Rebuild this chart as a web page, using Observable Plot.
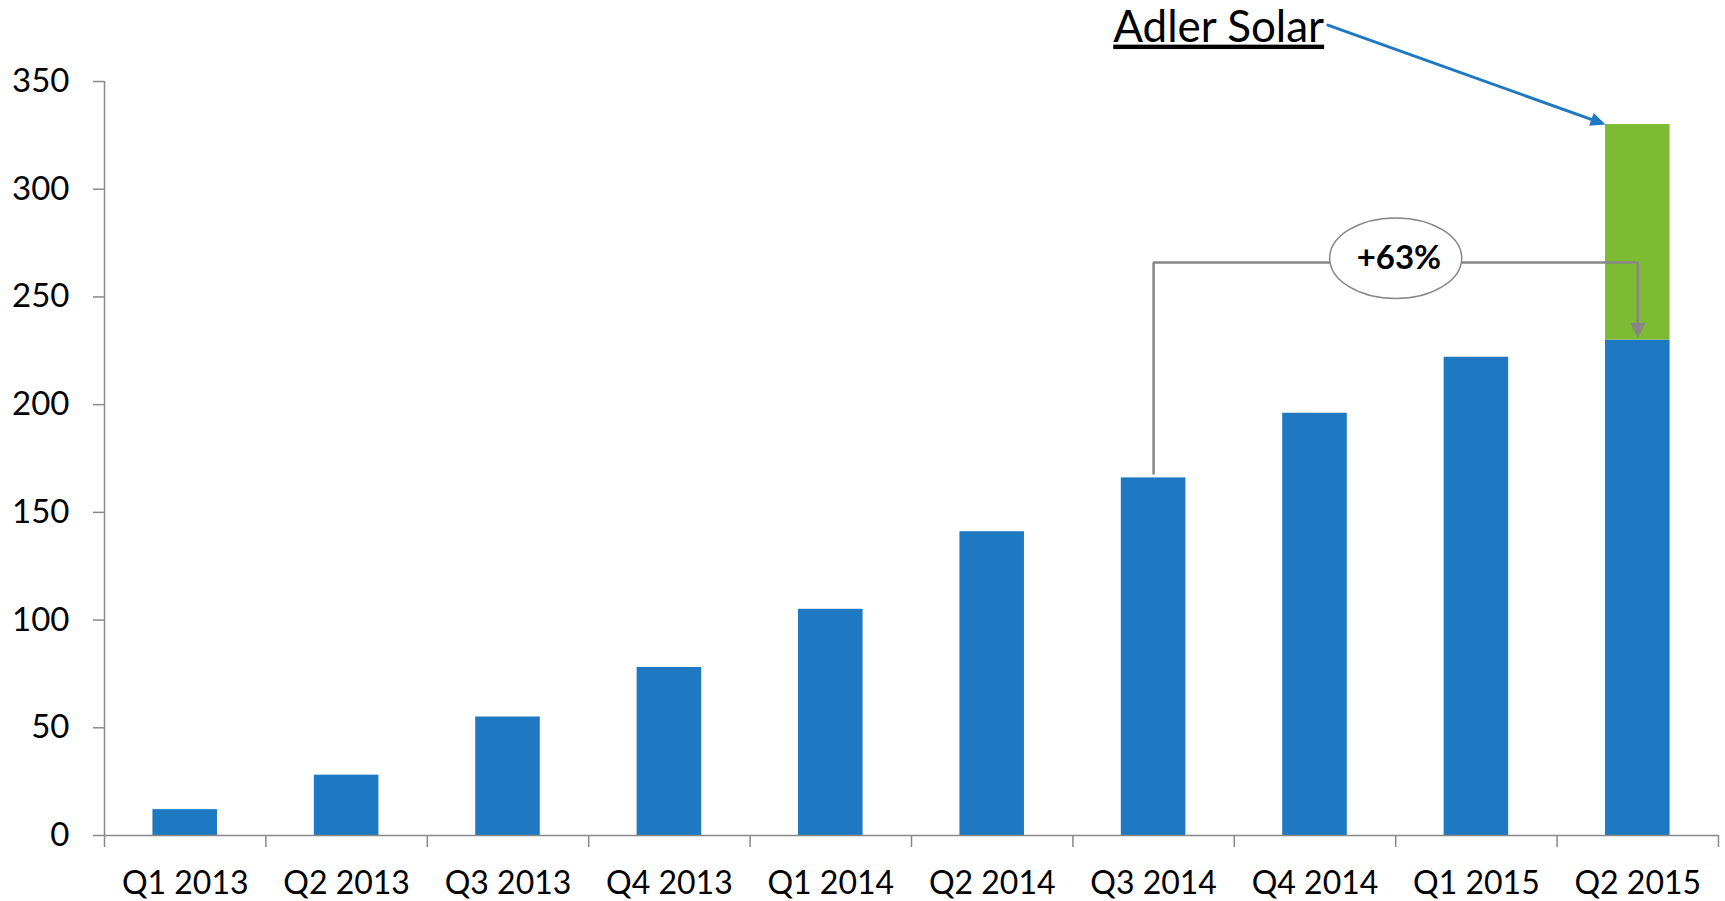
<!DOCTYPE html>
<html><head><meta charset="utf-8">
<script src="https://cdn.jsdelivr.net/npm/d3@7"></script>
<script src="https://cdn.jsdelivr.net/npm/@observablehq/plot@0.6"></script>
<style>html,body{margin:0;padding:0;background:#fff;overflow:hidden}</style>
</head><body><div id="chart"></div>
<script>
// ---- data ----
const quarters = ["Q1 2013","Q2 2013","Q3 2013","Q4 2013","Q1 2014","Q2 2014","Q3 2014","Q4 2014","Q1 2015","Q2 2015"];
const values = [12, 28, 55, 78, 105, 141, 166, 196, 222, 230];
const adlerQuarter = "Q2 2015";
const adlerValue = 100;
const yTicks = [0, 50, 100, 150, 200, 250, 300, 350];
const calloutLabel = "Adler Solar";
const growthLabel = "+63%";
const growthFrom = "Q3 2014";
const growthTo = "Q2 2015";
const growthLevel = 266;

// ---- styles ----
const BLUE = "#1E78C2", GREEN = "#7CBB32", AXIS = "#898989", BRACKET = "#878787";
const FONT = "Lato, 'Open Sans', sans-serif";
const half = 0.2; // half bar width in band units

const rows = quarters.map((q, i) => ({q, i, value: values[i]}));
const ai = quarters.indexOf(adlerQuarter);
const adlerRows = [{i: ai, base: values[ai], add: adlerValue}];
const fi = quarters.indexOf(growthFrom), ti = quarters.indexOf(growthTo);

// custom symbols
function head(angleDeg, w) {
  const a = angleDeg * Math.PI / 180, c = Math.cos(a), s = Math.sin(a);
  const rot = (x, y) => [x * c - y * s, x * s + y * c];
  return {draw(ctx, size) {
    const r = Math.sqrt(size / Math.PI);
    const p1 = rot(-r * w, r), p2 = rot(r * w, r);
    ctx.moveTo(0, 0); ctx.lineTo(p1[0], p1[1]); ctx.lineTo(p2[0], p2[1]); ctx.closePath();
  }};
}
const ellipse = {draw(ctx, size) {
  const rx = Math.sqrt(size / Math.PI), ry = rx * 0.61, k = 0.5523;
  ctx.moveTo(rx, 0);
  ctx.bezierCurveTo(rx, ry * k, rx * k, ry, 0, ry);
  ctx.bezierCurveTo(-rx * k, ry, -rx, ry * k, -rx, 0);
  ctx.bezierCurveTo(-rx, -ry * k, -rx * k, -ry, 0, -ry);
  ctx.bezierCurveTo(rx * k, -ry, rx, -ry * k, rx, 0);
  ctx.closePath();
}};

const bounds = d3.range(quarters.length + 1).map(i => i - 0.5);

const plot = Plot.plot({
  width: 1725, height: 901,
  marginLeft: 104, marginRight: 7, marginTop: 81, marginBottom: 66,
  style: {fontFamily: FONT, color: "black", background: "white"},
  x: {type: "linear", domain: [-0.5, quarters.length - 0.5]},
  y: {domain: [0, 350]},
  marks: [
    Plot.rectY(rows, {x1: d => d.i - half, x2: d => d.i + half, y1: 0, y2: "value", fill: BLUE}),
    Plot.rectY(adlerRows, {x1: d => d.i - half, x2: d => d.i + half, y1: "base", y2: d => d.base + d.add, fill: GREEN}),
    // axes
    Plot.ruleX([-0.5], {y1: 0, y2: 350, stroke: AXIS, strokeWidth: 1.5}),
    Plot.ruleY([0], {stroke: AXIS, strokeWidth: 1.5}),
    Plot.axisY({ticks: yTicks, tickSize: 11, tickPadding: 24, stroke: AXIS, strokeWidth: 1.5, fontSize: 33, label: null}),
    Plot.axisX({ticks: bounds, tickSize: 12, stroke: AXIS, strokeWidth: 1.5, tickFormat: () => "", label: null}),
    Plot.axisX({ticks: d3.range(quarters.length), tickSize: 0, tickPadding: 36, tickFormat: i => quarters[i], fontSize: 32, label: null}),
    // growth bracket
    Plot.line([
      {x: fi, y: values[fi] + 2}, {x: fi, y: growthLevel},
      {x: ti, y: growthLevel}, {x: ti, y: values[ti] + 8}
    ], {x: "x", y: "y", stroke: BRACKET, strokeWidth: 2.5, strokeLinejoin: "miter"}),
    Plot.dot([{x: ti, y: values[ti] + 1}], {x: "x", y: "y", r: 15, symbol: head(180, 0.53), fill: BRACKET, stroke: "none"}),
    Plot.dot([{x: (fi + ti) / 2, y: growthLevel + 2}], {x: "x", y: "y", r: 66, symbol: ellipse, fill: "white", stroke: BRACKET, strokeWidth: 1.5}),
    Plot.text([growthLabel], {x: (fi + ti) / 2 + 0.02, y: growthLevel + 2, text: d => d, fontSize: 33, fontWeight: "bold", fill: "black"}),
    // Adler Solar callout
    Plot.text([calloutLabel], {x: 5.75, y: 368.5, text: d => d, fontSize: 44, textAnchor: "start", lineAnchor: "bottom", fill: "black",
      render(index, scales, values, dims, ctx, next) {
        const g = next(index, scales, values, dims, ctx);
        g.querySelectorAll("text").forEach(t => t.setAttribute("text-decoration", "underline"));
        return g;
      }}),
    Plot.line([{x: 7.08, y: 376.2}, {x: ai - half - 0.058, y: adlerValue + values[ai] + 1.6}], {x: "x", y: "y", stroke: BLUE, strokeWidth: 3}),
    Plot.dot([{x: ai - half, y: adlerValue + values[ai]}], {x: "x", y: "y", r: 15, symbol: head(110, 0.45), fill: BLUE, stroke: "none"})
  ]
});
document.getElementById("chart").appendChild(plot);
</script>
</body></html>
